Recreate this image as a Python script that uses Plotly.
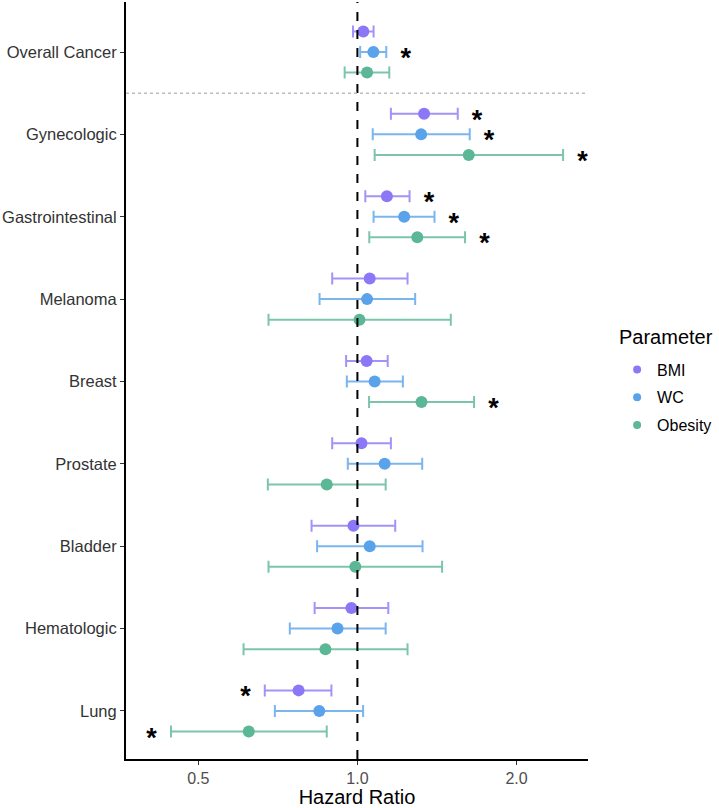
import plotly.graph_objects as go
import math

categories = ["Overall Cancer", "Gynecologic", "Gastrointestinal", "Melanoma", "Breast",
              "Prostate", "Bladder", "Hematologic", "Lung"]
series = ["BMI", "WC", "Obesity"]
colors = {"BMI": "#8C78F6", "WC": "#5AA2EA", "Obesity": "#5BB796"}
bar_colors = {"BMI": "rgba(140,120,246,0.8)", "WC": "rgba(90,162,234,0.8)", "Obesity": "rgba(91,183,150,0.8)"}

hr_bmi = [1.026, 1.337, 1.137, 1.055, 1.041, 1.018, 0.983, 0.974, 0.774]
lo_bmi = [0.981, 1.157, 1.035, 0.896, 0.952, 0.896, 0.819, 0.830, 0.668]
hi_bmi = [1.073, 1.548, 1.255, 1.244, 1.141, 1.157, 1.179, 1.144, 0.893]
sig_bmi = [0, 1, 1, 0, 0, 0, 0, 0, 1]

hr_wc = [1.072, 1.320, 1.226, 1.043, 1.078, 1.126, 1.055, 0.917, 0.847]
lo_wc = [1.012, 1.069, 1.073, 0.848, 0.955, 0.959, 0.839, 0.745, 0.698]
hi_wc = [1.134, 1.631, 1.399, 1.286, 1.219, 1.326, 1.328, 1.131, 1.025]
sig_wc = [1, 1, 1, 0, 0, 0, 0, 0, 0]

hr_ob = [1.043, 1.624, 1.298, 1.009, 1.322, 0.875, 0.991, 0.870, 0.623]
lo_ob = [0.946, 1.078, 1.053, 0.679, 1.052, 0.677, 0.679, 0.609, 0.444]
hi_ob = [1.149, 2.449, 1.598, 1.502, 1.662, 1.131, 1.446, 1.244, 0.875]
sig_ob = [0, 1, 1, 0, 1, 0, 0, 0, 1]

data = {
    "BMI": (hr_bmi, lo_bmi, hi_bmi, sig_bmi),
    "WC": (hr_wc, lo_wc, hi_wc, sig_wc),
    "Obesity": (hr_ob, lo_ob, hi_ob, sig_ob),
}
offsets = {"BMI": 0.25, "WC": 0.0, "Obesity": -0.25}

n = len(categories)
ypos = [n - 1 - i for i in range(n)]

FONT = "Liberation Sans, Arial, sans-serif"
fig = go.Figure()

star_x, star_y = [], []
for s in series:
    hr, lo, hi, sig = data[s]
    ys = [y + offsets[s] for y in ypos]
    fig.add_trace(go.Scatter(
        x=hr, y=ys, mode="markers",
        marker=dict(size=12, color=colors[s]),
        error_x=dict(type="data", symmetric=False,
                     array=[h - v for h, v in zip(hi, hr)],
                     arrayminus=[v - l for v, l in zip(hr, lo)],
                     color=bar_colors[s], thickness=2, width=6),
        showlegend=False, hoverinfo="skip"))
    for v, l, h, g, y in zip(hr, lo, hi, sig, ys):
        if g:
            if v >= 1:
                star_x.append(h * 1.088)
            else:
                star_x.append(l / 1.088)
            star_y.append(y)

fig.add_trace(go.Scatter(x=star_x, y=[y - 0.1 for y in star_y], mode="text",
                         text=["<b>*</b>"] * len(star_x),
                         textfont=dict(size=27, color="black", family=FONT),
                         textposition="middle center", showlegend=False, hoverinfo="skip"))

for i, s in enumerate(series):
    fig.add_trace(go.Scatter(x=[None], y=[None], mode="markers", name=s,
                             marker=dict(size=8, color=colors[s]), legendgroup=s))

fig.add_shape(type="line", xref="x", yref="paper", x0=1, x1=1, y0=0, y1=1,
              line=dict(color="black", width=2, dash="dash"))
fig.add_shape(type="line", xref="paper", yref="y", x0=0, x1=1, y0=n - 1.5, y1=n - 1.5,
              line=dict(color="#BDBDBD", width=1.5, dash="dot"))

fig.add_annotation(text="Parameter", xref="paper", yref="paper", x=1.063, y=0.5575,
                   xanchor="left", yanchor="middle", showarrow=False,
                   font=dict(size=20, color="black", family=FONT))

fig.update_layout(
    width=719, height=808,
    margin=dict(l=126, r=129, t=2, b=49),
    plot_bgcolor="white", paper_bgcolor="white",
    font=dict(family=FONT, color="#4D4D4D", size=16),
    xaxis=dict(type="log", range=[math.log10(0.365), math.log10(2.73)],
               tickvals=[0.5, 1.0, 2.0], ticktext=["0.5", "1.0", "2.0"],
               showgrid=False, zeroline=False, showline=True, linecolor="black", linewidth=2,
               ticks="outside", ticklen=4, tickcolor="#333333", tickwidth=1.2,
               tickfont=dict(size=16, color="#4D4D4D"), automargin=False,
               title=dict(text="Hazard Ratio", font=dict(size=20, color="black"), standoff=0)),
    yaxis=dict(range=[-0.583, n - 1 + 0.607], tickvals=ypos, ticktext=categories,
               showgrid=False, zeroline=False, showline=True, linecolor="black", linewidth=2,
               ticks="outside", ticklen=4, tickcolor="#333333", tickwidth=1.2,
               tickfont=dict(size=16.5, color="#333333"), automargin=False),
    legend=dict(x=1.063, xanchor="left", y=0.537, yanchor="top",
                font=dict(size=16, color="black"), tracegroupgap=4,
                traceorder="grouped", itemwidth=30),
)

fig.write_html("out.html", post_script="document.body.style.margin='0px';",
               config={"displayModeBar": False})
